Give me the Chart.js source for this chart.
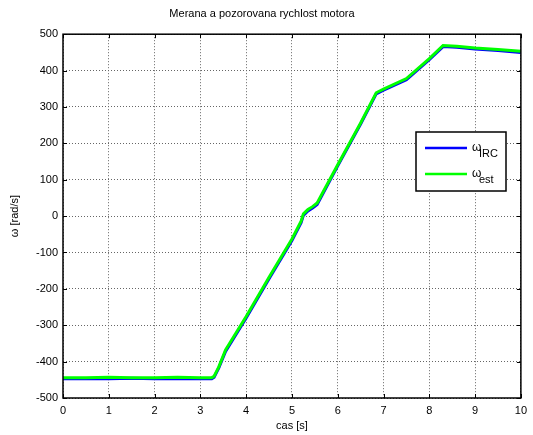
<!DOCTYPE html>
<html>
<head>
<meta charset="utf-8">
<script src="https://cdn.jsdelivr.net/npm/chart.js@4/dist/chart.umd.min.js"></script>
<style>
  html, body { margin: 0; padding: 0; background: #fff; }
  #wrap { width: 533px; height: 435px; }
</style>
</head>
<body>
<div id="wrap"><canvas id="mychart" width="533" height="435"></canvas></div>
<script>
// cas [s]
const times = [0, 0.5, 1, 1.5, 2, 2.5, 3, 3.25, 3.3, 3.4, 3.55, 4, 4.5, 5, 5.2, 5.25, 5.35, 5.45, 5.55, 6, 6.5, 6.84, 7, 7.5, 8, 8.3, 8.6, 9, 9.5, 10];
// omega IRC (modra)
const irc = [-447, -447, -447, -446, -447, -447, -447, -447, -443, -418, -372, -280, -172, -67, -18, 2, 14, 22, 32, 138, 253, 336, 346, 375, 430, 466, 464, 459, 455, 450];
// omega est (zelena)
const est = [-444, -444, -443, -444, -444, -443, -444, -444, -440, -415, -368, -276, -168, -63, -14, 6, 18, 26, 36, 141, 256, 339, 349, 378, 433, 469, 467, 462, 458, 453];

const xTicks = [0, 1, 2, 3, 4, 5, 6, 7, 8, 9, 10];
const yTicks = [-500, -400, -300, -200, -100, 0, 100, 200, 300, 400, 500];

const font = 'Liberation Sans, Arial, sans-serif';

function toPoints(xs, ys) {
    return xs.map((x, i) => ({ x: x, y: ys[i] }));
}

// ramik, ticky dovnutra a legenda ako v matlabe
const matlabBox = {
    id: 'matlabBox',
    afterDraw(chart) {
        const c = chart.ctx;
        const a = chart.chartArea;
        const sx = chart.scales.x;
        const sy = chart.scales.y;
        c.save();
        c.strokeStyle = '#000';
        c.lineWidth = 1;
        xTicks.forEach(t => {
            const px = Math.round(sx.getPixelForValue(t)) + 0.5;
            c.beginPath();
            c.moveTo(px, a.bottom); c.lineTo(px, a.bottom - 4);
            c.moveTo(px, a.top); c.lineTo(px, a.top + 4);
            c.stroke();
        });
        yTicks.forEach(t => {
            const py = Math.round(sy.getPixelForValue(t)) + 0.5;
            c.beginPath();
            c.moveTo(a.left, py); c.lineTo(a.left + 4, py);
            c.moveTo(a.right, py); c.lineTo(a.right - 4, py);
            c.stroke();
        });
        c.lineWidth = 1.5;
        c.strokeRect(a.left, a.top, a.right - a.left, a.bottom - a.top);

        // legenda
        const lx = 416, ly = 132, lw = 90, lh = 59;
        c.fillStyle = '#fff';
        c.fillRect(lx, ly, lw, lh);
        c.lineWidth = 1.5;
        c.strokeRect(lx, ly, lw, lh);
        const subs = ['IRC', 'est'];
        chart.data.datasets.forEach((ds, i) => {
            const yy = ly + 16 + i * 26;
            c.strokeStyle = ds.borderColor;
            c.lineWidth = 2.5;
            c.beginPath();
            c.moveTo(lx + 9, yy); c.lineTo(lx + 51, yy);
            c.stroke();
            c.fillStyle = '#000';
            c.textBaseline = 'middle';
            c.font = '12px ' + font;
            c.fillText('\u03c9', lx + 56, yy);
            c.font = '11px ' + font;
            c.fillText(subs[i], lx + 63, yy + 6);
        });
        c.restore();
    }
};

const ctx = document.getElementById('mychart');

const lineChart = new Chart(ctx, {
    type: 'line',
    data: {
        datasets: [{
            label: '\u03c9IRC',
            data: toPoints(times, irc),
            borderColor: '#0000ff',
            borderWidth: 3,
            pointRadius: 0,
            order: 2
        }, {
            label: '\u03c9est',
            data: toPoints(times, est),
            borderColor: '#00ff00',
            borderWidth: 3,
            pointRadius: 0,
            order: 1
        }]
    },
    options: {
        responsive: false,
        animation: false,
        layout: { padding: { right: 9 } },
        plugins: {
            legend: { display: false },
            tooltip: { enabled: false },
            title: {
                display: true,
                text: 'Merana a pozorovana rychlost motora',
                color: '#000',
                font: { family: font, size: 11, weight: 'normal' },
                padding: { top: 7, bottom: 14 }
            }
        },
        scales: {
            x: {
                type: 'linear',
                min: 0,
                max: 10,
                afterBuildTicks: s => { s.ticks = xTicks.map(v => ({ value: v })); },
                afterFit: s => { s.height = 37; },
                ticks: { color: '#000', font: { family: font, size: 11 }, padding: 6, maxRotation: 0 },
                grid: { color: '#666', lineWidth: 1, drawTicks: false },
                border: { display: false, dash: [1, 2] },
                title: { display: true, text: 'cas [s]', color: '#000', font: { family: font, size: 11 }, padding: { top: 0, bottom: 2 } }
            },
            y: {
                min: -500,
                max: 500,
                afterBuildTicks: s => { s.ticks = yTicks.map(v => ({ value: v })); },
                afterFit: s => { s.width = 63; },
                ticks: { color: '#000', font: { family: font, size: 11 }, padding: 5 },
                grid: { color: '#666', lineWidth: 1, drawTicks: false },
                border: { display: false, dash: [1, 2] },
                title: { display: true, text: '\u03c9 [rad/s]', color: '#000', font: { family: font, size: 11 }, padding: { top: 8, bottom: 0 } }
            }
        }
    },
    plugins: [matlabBox]
});
</script>
</body>
</html>
